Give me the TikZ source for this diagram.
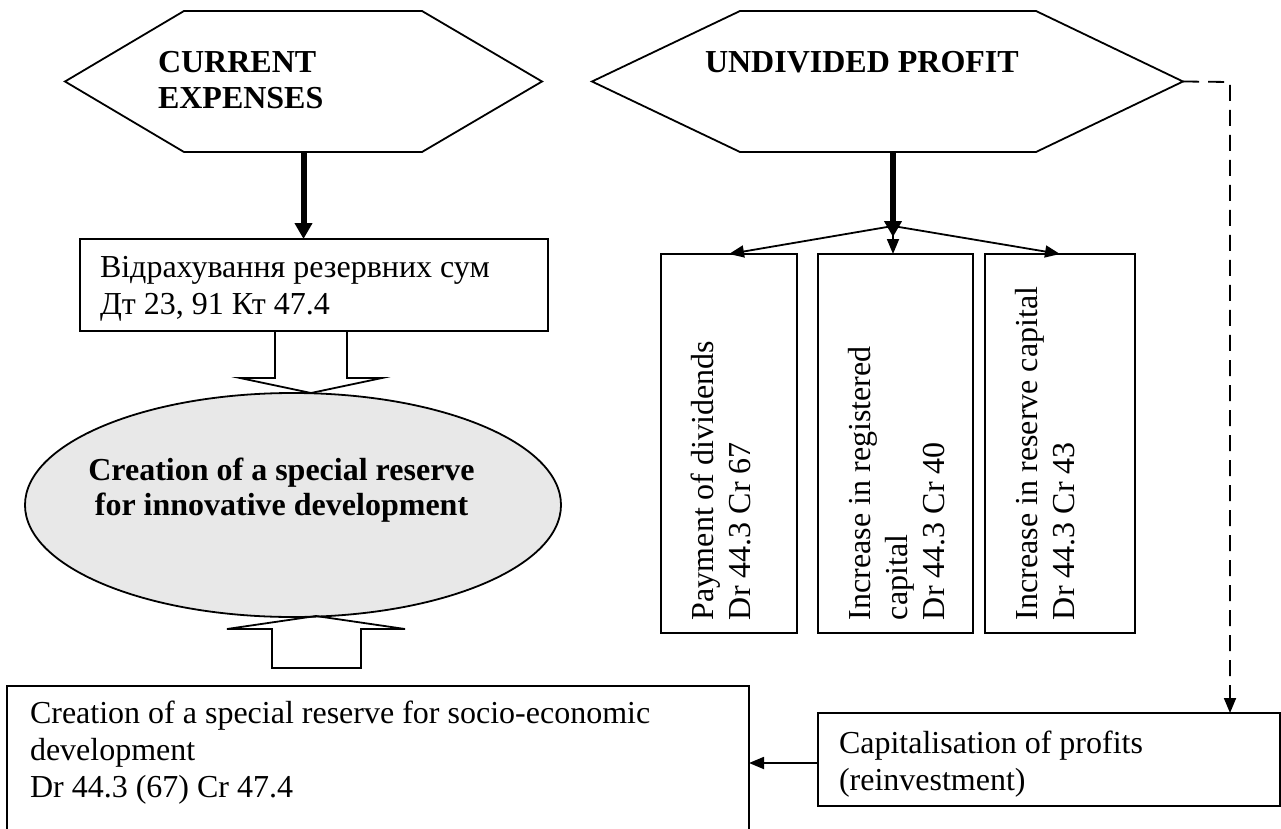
\documentclass[tikz,border=0pt]{standalone}
\usepackage{fontspec}
\setmainfont{Liberation Serif}
\usetikzlibrary{arrows.meta,calc,shapes.geometric}
\begin{document}
\begin{tikzpicture}[x=1pt,y=-1pt,
  every node/.style={inner sep=0pt,outer sep=0pt},
  lw/.style={line width=1.8pt},
  txt/.style={font=\fontsize{32}{37}\selectfont,align=left},
  btxt/.style={font=\fontsize{32}{36}\selectfont\bfseries,align=left},
  boxn/.style={draw,lw,anchor=north west},
  arr/.style={lw,-{Triangle[length=15pt,width=12pt]}},
  thickarr/.style={line width=6pt,-{Triangle[length=16pt,width=17pt]}},
  dsh/.style={lw,dash pattern=on 16pt off 9pt,-{Triangle[length=15pt,width=12pt]}},
  blk/.style={lw,line join=miter},
  hexl/.style={lw,line join=miter},
]
\useasboundingbox (0,0) rectangle (1281,829);

% hexagons
\node[minimum width=477pt,minimum height=141pt] (ce) at (303.5,81.5) {};
\draw[hexl] (ce.west) -- ($(ce.north west)+(119,0)$) -- ($(ce.north east)+(-120,0)$) -- (ce.east)
  -- ($(ce.south east)+(-120,0)$) -- ($(ce.south west)+(119,0)$) -- cycle;
\node[btxt,anchor=north west] (ceT) at (158,51) {CURRENT\\EXPENSES};

\node[minimum width=591pt,minimum height=141pt] (up) at (887.5,81.5) {};
\draw[hexl] (up.west) -- ($(up.north west)+(148,0)$) -- ($(up.north east)+(-147,0)$) -- (up.east)
  -- ($(up.south east)+(-147,0)$) -- ($(up.south west)+(148,0)$) -- cycle;
\node[btxt,anchor=north west] (upT) at (705,51) {UNDIVIDED PROFIT};

% left column
\node[boxn,minimum width=468pt,minimum height=92pt] (vb) at (80,239) {};
\node[txt,anchor=north west] (vbT) at (100,256) {Відрахування резервних сум\\Дт 23, 91 Кт 47.4};

\node[draw,lw,ellipse,fill=black!9,minimum width=536pt,minimum height=224pt] (ell) at (293,505) {};
\node[font=\fontsize{32}{35}\selectfont\bfseries,align=center,anchor=north] (ellT) at (281.5,458)
  {Creation of a special reserve\\for innovative development};

\node[boxn,minimum width=742pt,minimum height=145pt] (sr) at (7,686) {};
\node[txt,anchor=north west] (srT) at (30,701)
  {Creation of a special reserve for socio-economic\\development\\Dr 44.3 (67) Cr 47.4};

% block arrows
\draw[blk] (275,331) -- (275,378) -- (240,378) -- (311,393) -- (382,378) -- (347,378) -- (347,331);
\draw[blk] (272,668) -- (272,629) -- (227,629) -- (316,616) -- (405,629) -- (361,629) -- (361,668) -- cycle;

% vertical boxes
\node[boxn,minimum width=136pt,minimum height=379pt] (b1) at (661,254) {};
\node[boxn,minimum width=155pt,minimum height=379pt] (b2) at (818,254) {};
\node[boxn,minimum width=150pt,minimum height=379pt] (b3) at (985,254) {};
\node[txt,rotate=90,anchor=north west] (b1T) at (691,620) {Payment of dividends\\Dr 44.3 Cr 67};
\node[txt,rotate=90,anchor=north west] (b2T) at (848,620) {Increase in registered\\capital\\Dr 44.3 Cr 40};
\node[txt,rotate=90,anchor=north west] (b3T) at (1015,620) {Increase in reserve capital\\Dr 44.3 Cr 43};

% capitalisation
\node[boxn,minimum width=462pt,minimum height=93pt] (cap) at (818,713) {};
\node[txt,anchor=north west] (capT) at (839,731) {Capitalisation of profits\\(reinvestment)};

% connectors
\draw[thickarr] (ce.south) -- (ce.south |- vb.north);
\coordinate (fan) at (893,226);
\draw[arr] (fan) -- (b1.north);
\draw[arr] (fan) -- (fan |- b2.north);
\draw[arr] (fan) -- (b3.north);
\draw[thickarr] (up.south -| fan) -- ($(fan)+(0,11)$);
\coordinate (dk) at (1230,82);
\draw[dsh] (up.east) -- (dk) -- (dk |- cap.north);
\coordinate (capIn) at ($(cap.west)+(0,3.5)$);
\draw[arr] (capIn) -- (capIn -| sr.east);
\end{tikzpicture}
\end{document}
